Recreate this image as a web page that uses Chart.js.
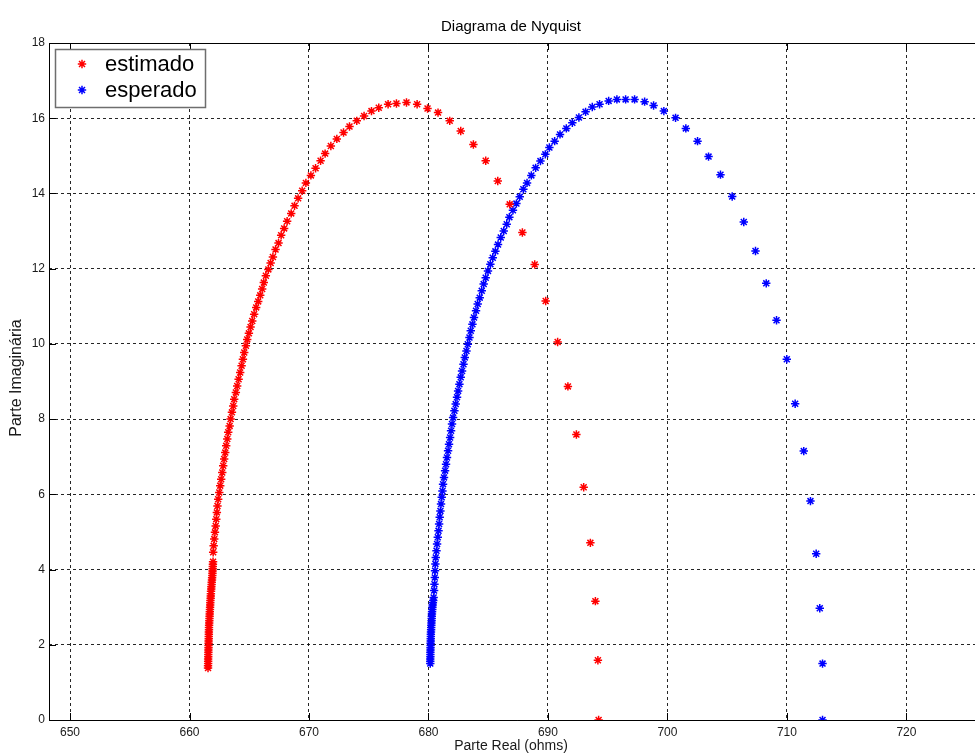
<!DOCTYPE html>
<html>
<head>
<meta charset="utf-8">
<title>Diagrama de Nyquist</title>
<script src="https://cdn.jsdelivr.net/npm/chart.js@4.4.1/dist/chart.umd.min.js"></script>
<style>
  html, body { margin: 0; padding: 0; background: #fff; overflow: hidden; }
  #wrap { width: 975px; height: 756px; overflow: hidden; }
</style>
</head>
<body>
<div id="wrap"><canvas id="nyquist" width="990" height="756"></canvas></div>
<script>
const chartTitle = "Diagrama de Nyquist";
const xTitle = "Parte Real (ohms)";
const yTitle = "Parte Imaginária";
const seriesNames = ["estimado", "esperado"];

const xTickValues = [650, 660, 670, 680, 690, 700, 710, 720];
const yTickValues = [0, 2, 4, 6, 8, 10, 12, 14, 16, 18];

// estimado (red)
const estimadoRe = [
  661.55, 661.55, 661.56, 661.56, 661.56, 661.57, 661.57, 661.58, 661.58, 661.59,
  661.59, 661.60, 661.60, 661.61, 661.61, 661.62, 661.62, 661.63, 661.63, 661.64,
  661.65, 661.66, 661.67, 661.68, 661.69, 661.70, 661.71, 661.72, 661.73, 661.74,
  661.75, 661.77, 661.78, 661.79, 661.80, 661.82, 661.83, 661.85, 661.86, 661.88,
  661.89, 661.91, 661.92, 661.93, 661.94, 661.95, 661.96, 661.97,
  661.98, 662.02, 662.07, 662.13, 662.19,
  662.24, 662.29, 662.34, 662.40, 662.49, 662.57, 662.65, 662.74, 662.82, 662.90,
  662.99, 663.07, 663.16, 663.24, 663.36, 663.44, 663.55, 663.66, 663.74, 663.88,
  663.99, 664.11, 664.24, 664.36, 664.47, 664.58, 664.72, 664.83, 664.97, 665.11,
  665.25, 665.41, 665.58, 665.75, 665.92, 666.08, 666.22, 666.39, 666.60, 666.79,
  666.98, 667.20, 667.45, 667.67, 667.92, 668.17, 668.51, 668.79, 669.09, 669.43,
  669.74, 670.16, 670.55, 670.97, 671.35, 671.83, 672.33, 672.89, 673.39, 674.00,
  674.61, 675.23, 675.84, 676.62, 677.32, 678.16, 679.05, 679.92, 680.80, 681.78,
  682.70, 683.76, 684.79, 685.80, 686.80, 687.86, 688.89, 689.81, 690.81, 691.67,
  692.38, 692.99, 693.55, 693.97, 694.18, 694.24
];
const estimadoIm = [
  1.38, 1.44, 1.50, 1.56, 1.62, 1.68, 1.74, 1.80, 1.86, 1.92,
  1.98, 2.04, 2.10, 2.16, 2.22, 2.28, 2.34, 2.40, 2.46, 2.52,
  2.58, 2.64, 2.70, 2.76, 2.82, 2.88, 2.94, 3.00, 3.06, 3.12,
  3.18, 3.24, 3.30, 3.36, 3.42, 3.48, 3.54, 3.60, 3.66, 3.72,
  3.78, 3.84, 3.90, 3.96, 4.02, 4.08, 4.14, 4.21,
  4.46, 4.63, 4.81, 4.99, 5.16,
  5.34, 5.52, 5.69, 5.87, 6.05, 6.23, 6.40, 6.58, 6.76, 6.94,
  7.11, 7.29, 7.47, 7.65, 7.82, 8.00, 8.18, 8.35, 8.53, 8.71,
  8.88, 9.06, 9.24, 9.42, 9.59, 9.77, 9.95, 10.12, 10.28, 10.45,
  10.61, 10.79, 10.97, 11.13, 11.29, 11.46, 11.63, 11.81, 11.98, 12.15,
  12.31, 12.51, 12.68, 12.89, 13.07, 13.26, 13.47, 13.67, 13.87, 14.07,
  14.28, 14.48, 14.67, 14.87, 15.06, 15.26, 15.45, 15.62, 15.78, 15.93,
  16.06, 16.19, 16.28, 16.37, 16.39, 16.42, 16.37, 16.26, 16.15, 15.93,
  15.66, 15.30, 14.87, 14.33, 13.71, 12.96, 12.11, 11.14, 10.05, 8.87,
  7.59, 6.19, 4.71, 3.16, 1.59, 0
];

// esperado (blue)
const esperadoRe = [
  680.15, 680.15, 680.15, 680.16, 680.16, 680.16, 680.17, 680.17, 680.18, 680.18,
  680.19, 680.19, 680.20, 680.20, 680.21, 680.22, 680.23, 680.24, 680.25, 680.26,
  680.27, 680.28, 680.29, 680.30, 680.32, 680.33, 680.35, 680.37, 680.40, 680.43,
  680.47, 680.50, 680.53, 680.55,
  680.58, 680.61, 680.67, 680.72, 680.78, 680.84, 680.89, 680.94, 681.00, 681.05,
  681.11, 681.17, 681.22, 681.30, 681.39, 681.47, 681.55, 681.64, 681.72, 681.81,
  681.89, 681.97, 682.06, 682.17, 682.28, 682.39, 682.48, 682.59, 682.70, 682.81,
  682.93, 683.04, 683.18, 683.29, 683.43, 683.54, 683.68, 683.81, 683.98, 684.12,
  684.29, 684.46, 684.62, 684.79, 684.98, 685.18, 685.38, 685.60, 685.82, 686.05,
  686.30, 686.55, 686.77, 687.07, 687.36, 687.64, 687.94, 688.25, 688.61, 688.97,
  689.37, 689.78, 690.12, 690.56, 691.01, 691.54, 692.04, 692.59, 693.15, 693.71,
  694.32, 695.08, 695.77, 696.50, 697.25, 698.09, 698.84, 699.70, 700.68, 701.54,
  702.52, 703.44, 704.44, 705.42, 706.39, 707.37, 708.27, 709.13, 709.99, 710.69,
  711.41, 711.97, 712.45, 712.75, 712.98, 712.98
];
const esperadoIm = [
  1.50, 1.56, 1.62, 1.68, 1.74, 1.80, 1.86, 1.92, 1.98, 2.04,
  2.10, 2.16, 2.22, 2.28, 2.34, 2.40, 2.46, 2.52, 2.58, 2.64,
  2.70, 2.76, 2.82, 2.88, 2.94, 3.00, 3.06, 3.12, 3.18, 3.26,
  3.44, 3.61, 3.79, 3.97,
  4.15, 4.32, 4.50, 4.68, 4.86, 5.03, 5.21, 5.39, 5.56, 5.74,
  5.92, 6.09, 6.27, 6.45, 6.63, 6.80, 6.98, 7.16, 7.33, 7.51,
  7.69, 7.87, 8.04, 8.22, 8.40, 8.58, 8.75, 8.93, 9.11, 9.28,
  9.46, 9.64, 9.81, 9.99, 10.17, 10.35, 10.52, 10.70, 10.88, 11.06,
  11.23, 11.41, 11.59, 11.76, 11.94, 12.12, 12.29, 12.46, 12.64, 12.83,
  13.00, 13.18, 13.37, 13.55, 13.73, 13.91, 14.11, 14.28, 14.48, 14.68,
  14.86, 15.04, 15.22, 15.39, 15.57, 15.73, 15.88, 16.02, 16.17, 16.30,
  16.37, 16.46, 16.50, 16.50, 16.50, 16.44, 16.34, 16.19, 16.01, 15.73,
  15.39, 14.98, 14.50, 13.92, 13.24, 12.47, 11.61, 10.63, 9.59, 8.41,
  7.15, 5.82, 4.42, 2.97, 1.50, 0
];

function toPoints(re, im) {
  const n = Math.min(re.length, im.length);
  const pts = [];
  for (let i = 0; i < n; i++) pts.push({ x: re[i], y: im[i] });
  return pts;
}

const FONT = '"Liberation Sans", Arial, Helvetica, sans-serif';
Chart.defaults.font.family = FONT;

// box, inward ticks, titles and legend in the matlab way
const matlabFrame = {
  id: "matlabFrame",
  beforeDatasetsDraw(chart) {
    const { ctx, chartArea } = chart;
    const { left, right, top, bottom } = chartArea;
    const xs = chart.scales.x;
    const ys = chart.scales.y;
    const tickLen = 7;

    ctx.save();
    ctx.strokeStyle = "#000";
    ctx.lineWidth = 1;
    ctx.setLineDash([]);
    ctx.beginPath();
    ctx.moveTo(left + 0.5, top + 0.5);
    ctx.lineTo(left + 0.5, bottom + 0.5);
    ctx.lineTo(right + 1, bottom + 0.5);
    ctx.moveTo(left + 0.5, top + 0.5);
    ctx.lineTo(right + 1, top + 0.5);

    xs.ticks.forEach((t) => {
      const px = Math.round(xs.getPixelForValue(t.value)) + 0.5;
      ctx.moveTo(px, bottom);
      ctx.lineTo(px, bottom - tickLen);
      ctx.moveTo(px, top);
      ctx.lineTo(px, top + tickLen);
    });
    ys.ticks.forEach((t) => {
      const py = Math.round(ys.getPixelForValue(t.value)) + 0.5;
      ctx.moveTo(left, py);
      ctx.lineTo(left + tickLen, py);
    });
    ctx.stroke();
    ctx.restore();
  },
  afterDraw(chart) {
    const { ctx } = chart;
    ctx.save();
    ctx.fillStyle = "#000";
    ctx.font = "15px " + FONT;
    ctx.textAlign = "center";
    ctx.textBaseline = "alphabetic";
    ctx.fillText(chartTitle, 511, 31);

    ctx.fillStyle = "#1a1a1a";
    ctx.font = "14px " + FONT;
    ctx.textBaseline = "middle";
    ctx.fillText(xTitle, 511, 746);

    ctx.save();
    ctx.translate(17, 378);
    ctx.rotate(-Math.PI / 2);
    ctx.font = "16px " + FONT;
    ctx.fillText(yTitle, 0, 0);
    ctx.restore();

    // legend box
    const bx = 55.5, by = 49.5, bw = 150, bh = 58;
    ctx.fillStyle = "#fff";
    ctx.fillRect(bx, by, bw, bh);
    ctx.strokeStyle = "#6e6e6e";
    ctx.lineWidth = 1.5;
    ctx.strokeRect(bx, by, bw, bh);

    chart.data.datasets.forEach((ds, i) => {
      const cy = 64 + i * 26;
      ctx.strokeStyle = ds.borderColor;
      ctx.fillStyle = ds.backgroundColor;
      ctx.lineWidth = 1.5;
      Chart.helpers.drawPoint(ctx, { pointStyle: "star", radius: 4.2, rotation: 0, borderWidth: 1.5 }, 82, cy);
      ctx.fillStyle = "#000";
      ctx.font = "22px " + FONT;
      ctx.textAlign = "left";
      ctx.textBaseline = "middle";
      ctx.fillText(ds.label, 105, cy + 1);
    });
    ctx.restore();
  }
};

new Chart(document.getElementById("nyquist"), {
  type: "scatter",
  data: {
    datasets: [
      {
        label: seriesNames[0],
        data: toPoints(estimadoRe, estimadoIm),
        borderColor: "#ff0000",
        backgroundColor: "#ff0000",
        pointStyle: "star",
        pointRadius: 4.2,
        borderWidth: 1.5,
        showLine: false
      },
      {
        label: seriesNames[1],
        data: toPoints(esperadoRe, esperadoIm),
        borderColor: "#0000ff",
        backgroundColor: "#0000ff",
        pointStyle: "star",
        pointRadius: 4.2,
        borderWidth: 1.5,
        showLine: false
      }
    ]
  },
  options: {
    responsive: false,
    animation: false,
    events: [],
    layout: { padding: { top: 43, left: 0, right: 0, bottom: 0 } },
    plugins: {
      legend: { display: false },
      title: { display: false },
      tooltip: { enabled: false }
    },
    scales: {
      x: {
        type: "linear",
        min: 648.24,
        max: 726.52,
        afterBuildTicks: (scale) => { scale.ticks = xTickValues.map((v) => ({ value: v })); },
        afterFit: (scale) => { scale.height = 36; },
        grid: { color: "rgba(0,0,0,0.85)", lineWidth: 1, drawTicks: false },
        border: { display: false, dash: [3, 3] },
        ticks: { color: "#1a1a1a", font: { size: 12 }, padding: 5, maxRotation: 0, autoSkip: false },
        title: { display: false }
      },
      y: {
        type: "linear",
        min: 0,
        max: 18,
        afterBuildTicks: (scale) => { scale.ticks = yTickValues.map((v) => ({ value: v })); },
        afterFit: (scale) => { scale.width = 49; },
        grid: { color: "rgba(0,0,0,0.85)", lineWidth: 1, drawTicks: false },
        border: { display: false, dash: [3, 3] },
        ticks: { color: "#1a1a1a", font: { size: 12 }, padding: 4, autoSkip: false },
        title: { display: false }
      }
    }
  },
  plugins: [matlabFrame]
});
</script>
</body>
</html>
